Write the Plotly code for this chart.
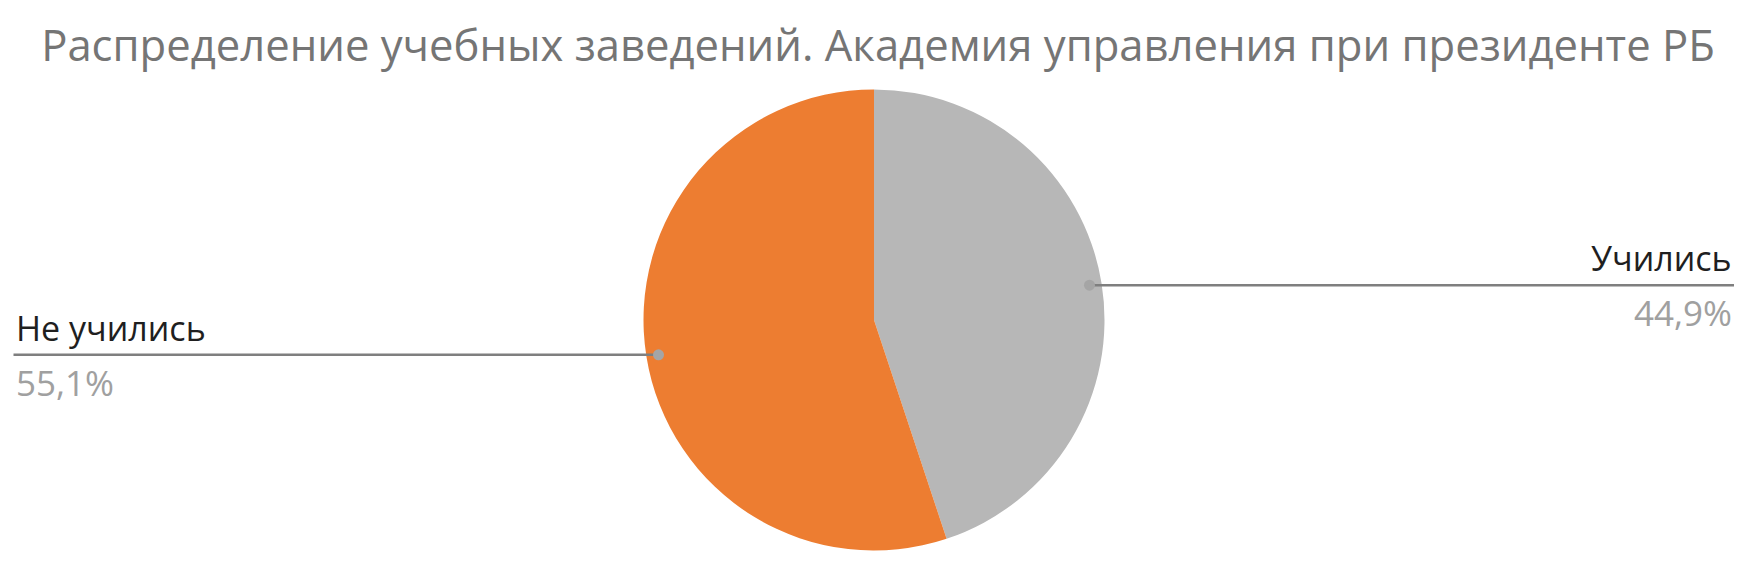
import math
import plotly.graph_objects as go

# data
labels = ["Учились", "Не учились"]
values = [44.9, 55.1]
pct_text = ["44,9%", "55,1%"]
colors = ["#B7B7B7", "#ED7D31"]
title = "Распределение учебных заведений. Академия управления при президенте РБ"

# page body has an 8px margin, so the figure is drawn 16px smaller and offset
OFF = 8
W, H = 1754 - 2 * OFF, 577 - 2 * OFF
cx_px, cy_px, r_px = 874 - OFF, 320 - OFF, 230.5

fig = go.Figure()
fig.add_trace(go.Pie(
    labels=labels,
    values=values,
    sort=False,
    direction="clockwise",
    rotation=0,
    marker=dict(colors=colors, line=dict(width=0)),
    textinfo="none",
    hoverinfo="label+percent",
    showlegend=False,
    domain=dict(
        x=[(cx_px - r_px) / W, (cx_px + r_px) / W],
        y=[(H - cy_px - r_px) / H, (H - cy_px + r_px) / H],
    ),
))

# leader lines + labels, positioned from the slice mid-angles
total = sum(values)
start = 0.0
shapes, annotations = [], []
line_end = {True: (1734 - OFF) / W, False: (13.5 - OFF) / W}
for lab, val, txt in zip(labels, values, pct_text):
    mid = math.radians((start + val / 2) / total * 360)
    start += val
    dx = 0.947 * r_px * math.sin(mid)
    dy = 0.947 * r_px * math.cos(mid)
    px = (cx_px + dx) / W
    py = (H - cy_px + dy) / H
    right = dx > 0
    shapes.append(dict(type="line", xref="paper", yref="paper",
                       x0=px, y0=py, x1=line_end[right], y1=py,
                       line=dict(color="#7F7F7F", width=2.5)))
    shapes.append(dict(type="circle", xref="paper", yref="paper",
                       x0=px - 5.5 / W, x1=px + 5.5 / W, y0=py - 5.5 / H, y1=py + 5.5 / H,
                       fillcolor="#A5A5A5", line=dict(width=0)))
    anchor = "right" if right else "left"
    annotations.append(dict(x=line_end[right], y=py + 2 / H, xref="paper", yref="paper",
                            text=lab, showarrow=False, xanchor=anchor, yanchor="bottom",
                            font=dict(family="Open Sans", size=34, color="#1F1F1F")))
    annotations.append(dict(x=line_end[right], y=py - 2 / H, xref="paper", yref="paper",
                            text=txt, showarrow=False, xanchor=anchor, yanchor="top",
                            font=dict(family="Open Sans", size=35, color="#A0A0A0")))

fig.update_layout(
    width=W, height=H,
    margin=dict(l=0, r=0, t=0, b=0),
    paper_bgcolor="white",
    plot_bgcolor="white",
    title=dict(text=title, x=(878 - OFF) / W, xanchor="center", y=1 - (46 - OFF) / H,
               yanchor="middle",
               font=dict(family="Open Sans", size=43.6, color="#757575")),
    shapes=shapes,
    annotations=annotations,
)

fig.write_html("out.html")
